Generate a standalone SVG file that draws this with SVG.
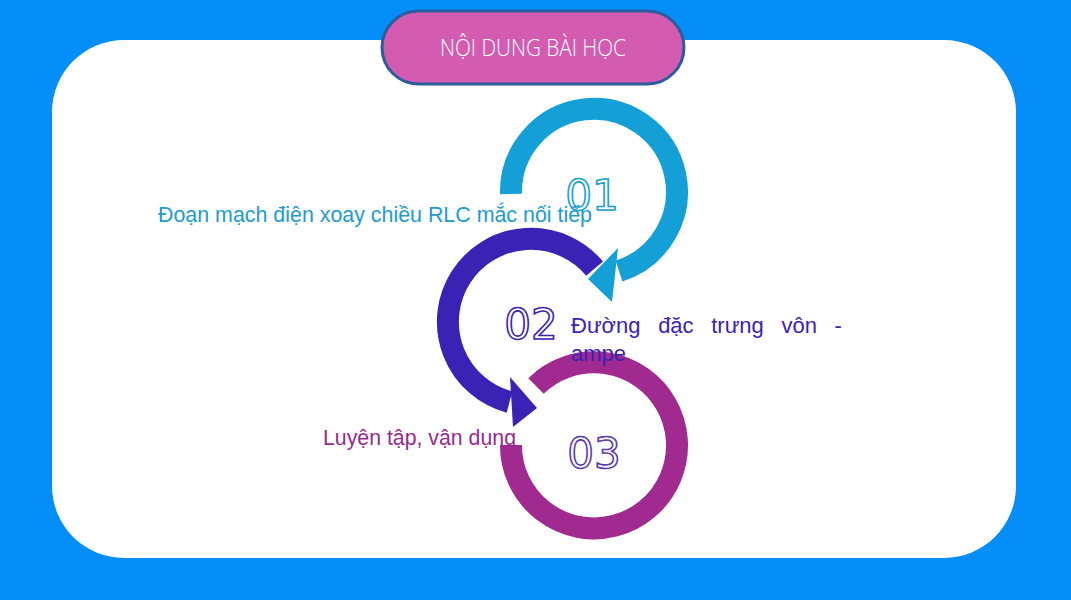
<svg xmlns="http://www.w3.org/2000/svg" width="1071" height="600" viewBox="0 0 1071 600">
<style>
.arc{fill:none;stroke-width:22}
.num{font-family:"DejaVu Sans",sans-serif;font-size:42px;fill:#fff;stroke-width:1.6;text-anchor:middle}
.lbl{font-family:"Liberation Sans",Arial,sans-serif;font-size:22px}
</style>
<rect width="1071" height="600" fill="#058ef8"/>
<rect x="52" y="40" width="964" height="518" rx="72" fill="#fff"/>
<g id="title">
<rect x="382" y="11" width="302" height="73" rx="36.5" fill="#d35bb0" stroke="#2a5d9e" stroke-width="3"/>
<text x="533" y="56" text-anchor="middle" font-family="Open Sans,sans-serif" font-weight="300" font-size="24" fill="#fff" textLength="186" lengthAdjust="spacingAndGlyphs">NỘI DUNG BÀI HỌC</text>
</g>
<g id="connectors">
<path class="arc" stroke="#14a0d6" d="M511 194 A83 83 0 1 1 619 271"/>
<polygon fill="#14a0d6" points="588,279 618,248 612,302"/>
<path class="arc" stroke="#3a22b5" d="M594.6 268.6 A83 83 0 1 0 509.5 402"/>
<polygon fill="#3a22b5" points="537,408 510,377 513,427"/>
<path class="arc" stroke="#a02a90" d="M536 386 A83 83 0 1 1 511 445"/>
</g>
<g id="n1">
<text class="num" x="592" y="210" stroke="#14a0d6">01</text>
<text class="lbl" x="158" y="222" fill="#1e9bd0" textLength="434" lengthAdjust="spacingAndGlyphs">Đoạn mạch điện xoay chiều RLC mắc nối tiếp</text>
</g>
<g id="n2">
<text class="num" x="531" y="339" stroke="#3a22b5">02</text>
<text class="lbl" x="571" y="333" fill="#3a22b5" word-spacing="11.5">Đường đặc trưng vôn -</text>
<text class="lbl" x="571" y="361" fill="#3a22b5">ampe</text>
</g>
<g id="n3">
<text class="num" x="594" y="468" stroke="#5a3ab0">03</text>
<text class="lbl" x="323" y="445" fill="#9a2a8a" textLength="193" lengthAdjust="spacingAndGlyphs">Luyện tập, vận dụng</text>
</g>
</svg>
